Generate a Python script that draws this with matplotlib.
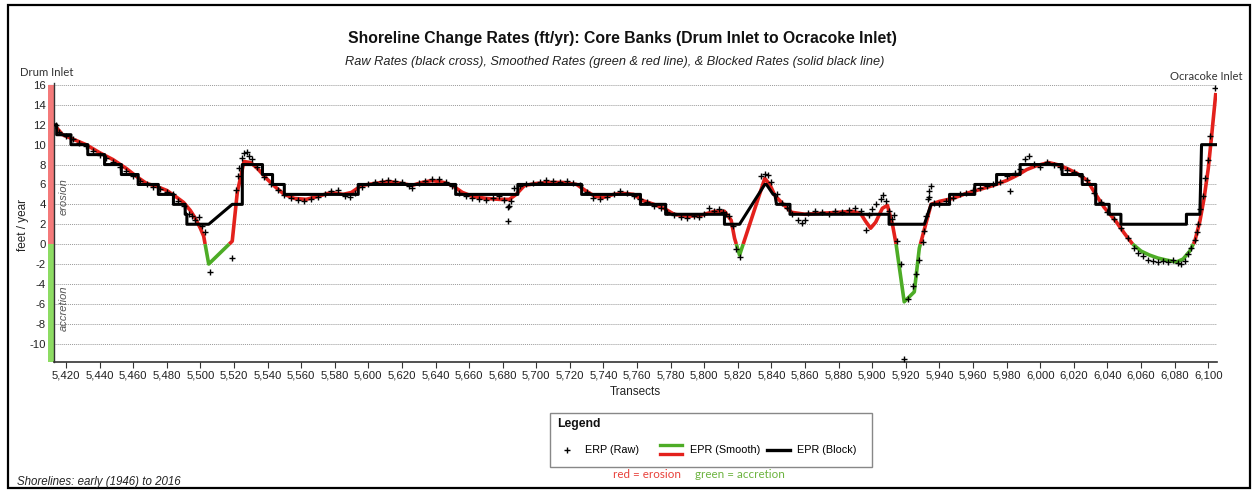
import numpy as np
import matplotlib
matplotlib.use("Agg")
import matplotlib.pyplot as plt
from matplotlib.lines import Line2D
from matplotlib.patches import Rectangle
import matplotlib.transforms as mtransforms

W, H = 1257, 490

TITLE = "Shoreline Change Rates (ft/yr): Core Banks (Drum Inlet to Ocracoke Inlet)"
SUBTITLE = ("Raw Rates (black cross), Smoothed Rates (green & red line), "
            "& Blocked Rates (solid black line)")

x_ticks = list(range(5420, 6101, 20))
y_ticks = list(range(-10, 17, 2))

# smoothed rates (transect, ft/yr)
smooth_x = [5414, 5418, 5425, 5432, 5440, 5448, 5456, 5462, 5468, 5474, 5480,
            5486, 5490, 5494, 5497, 5500, 5502, 5505, 5519, 5522, 5526, 5530,
            5534, 5540, 5545, 5550, 5556, 5563, 5570, 5578, 5585, 5590, 5596,
            5604, 5612, 5620, 5626, 5632, 5638, 5645, 5650, 5656, 5662, 5670,
            5678, 5684, 5688, 5693, 5700, 5708, 5716, 5724, 5730, 5735, 5740,
            5746, 5752, 5758, 5763, 5770, 5776, 5782, 5790, 5798, 5806, 5812,
            5816, 5818, 5821, 5836, 5839, 5842, 5847, 5852, 5860, 5870, 5880,
            5888, 5893, 5896, 5899, 5902, 5906, 5909, 5912, 5914, 5919, 5925,
            5928, 5932, 5935, 5940, 5948, 5956, 5964, 5972, 5980, 5986, 5992,
            5998, 6005, 6010, 6016, 6022, 6028, 6033, 6038, 6045, 6050, 6055,
            6060, 6065, 6070, 6075, 6081, 6085, 6089, 6092, 6095, 6097.5, 6100,
            6102, 6104.5]
smooth_y = [11.8, 11.0, 10.5, 10.0, 9.2, 8.5, 7.6, 6.8, 6.1, 5.8, 5.4,
            4.7, 4.2, 3.4, 2.6, 1.6, 0.8, -2.0, 0.3, 5.2, 8.3, 8.2,
            7.6, 6.5, 5.7, 5.0, 4.6, 4.5, 4.8, 5.2, 5.0, 5.2, 5.9,
            6.1, 6.3, 6.1, 5.9, 6.2, 6.4, 6.2, 5.9, 5.2, 4.8, 4.6,
            4.5, 4.5, 5.0, 5.9, 6.1, 6.2, 6.2, 6.0, 5.3, 4.8, 4.7,
            5.0, 5.1, 5.0, 4.4, 4.0, 3.6, 3.0, 2.8, 2.9, 3.3, 3.3,
            2.4, 0.6, -1.1, 6.6, 6.0, 4.9, 4.0, 3.2, 3.0, 3.1, 3.2,
            3.3, 3.1, 2.3, 1.6, 2.2, 3.6, 3.9, 2.0, 0.2, -5.8, -4.8,
            -0.4, 2.1, 4.0, 4.3, 4.6, 5.1, 5.5, 5.9, 6.4, 6.9, 7.5,
            7.9, 8.2, 8.0, 7.6, 7.1, 6.4, 5.0, 3.7, 2.3, 1.1, 0.0,
            -0.7, -1.1, -1.4, -1.6, -1.8, -1.5, -0.7, 0.3, 2.3, 4.6, 7.6,
            10.9, 15.2]

# blocked rates: start transect, end transect, value
block_start = [5414, 5414.5, 5423, 5433, 5443, 5453, 5463, 5475, 5484, 5491,
               5492, 5519, 5525, 5537, 5543, 5550, 5594, 5652, 5689, 5727,
               5762, 5777, 5812, 5836, 5841, 5843, 5851, 5910, 5935, 5946,
               5961, 5974, 5988, 6013, 6025, 6033, 6041, 6048, 6087, 6096]
block_end = [5414.5, 5423, 5433, 5443, 5453, 5463, 5475, 5484, 5491, 5492,
             5505, 5525, 5537, 5543, 5550, 5594, 5652, 5689, 5727, 5762,
             5777, 5812, 5821, 5837, 5842, 5851, 5910, 5931, 5946, 5961,
             5974, 5988, 6013, 6025, 6033, 6041, 6048, 6087, 6095, 6104.5]
block_val = [12, 11, 10, 9, 8, 7, 6, 5, 4, 3,
             2, 4, 8, 7, 6, 5, 6, 5, 6, 5,
             4, 3, 2, 6, 5, 4, 3, 2, 4, 5,
             6, 7, 8, 7, 6, 4, 3, 2, 3, 10]

# raw rates (transect, ft/yr)
raw_x = [5414, 5416, 5420, 5424, 5428, 5432, 5436, 5440, 5444, 5448, 5452,
         5456, 5460, 5464, 5468, 5472, 5476, 5480, 5484, 5487, 5490, 5493,
         5495, 5497, 5499, 5501, 5503, 5505.5, 5519, 5521, 5522.5, 5523, 5525,
         5526, 5528, 5529, 5531, 5534, 5538, 5542, 5546, 5550, 5554, 5558,
         5562, 5566, 5570, 5574, 5578, 5582, 5586, 5589, 5592, 5596, 5600,
         5604, 5608, 5612, 5616, 5620, 5624, 5626, 5630, 5634, 5638, 5642,
         5646, 5650, 5654, 5658, 5662, 5666, 5670, 5674, 5678, 5681, 5683,
         5684, 5683, 5685, 5687, 5690, 5694, 5698, 5702, 5706, 5710, 5714,
         5718, 5722, 5726, 5730, 5734, 5738, 5742, 5746, 5750, 5754, 5758,
         5762, 5766, 5770, 5774, 5778, 5782, 5786, 5790, 5794, 5797, 5800,
         5803, 5806, 5809, 5811, 5813, 5815, 5817, 5819, 5821, 5834, 5836,
         5838, 5840, 5843, 5846, 5849, 5852, 5856, 5858, 5860, 5862, 5866,
         5870, 5874, 5878, 5882, 5886, 5890, 5893, 5896, 5898, 5900, 5902,
         5905, 5906.5, 5908, 5910, 5912, 5913, 5915, 5917, 5919, 5921, 5924,
         5926, 5928, 5930, 5931, 5932, 5933, 5934, 5935, 5934, 5937, 5940,
         5944, 5948, 5952, 5956, 5960, 5964, 5968, 5972, 5976, 5980, 5982,
         5985, 5988, 5991, 5993, 5996, 6000, 6004, 6008, 6012, 6016, 6020,
         6024, 6028, 6032, 6036, 6040, 6044, 6048, 6052, 6056, 6058, 6061,
         6064, 6067, 6070, 6073, 6076, 6079, 6082, 6084, 6086, 6088, 6090,
         6092, 6093, 6094, 6095, 6097, 6098, 6100, 6101, 6104]
raw_y = [12.0, 11.3, 10.9, 10.6, 10.2, 9.9, 9.4, 9.0, 8.7, 8.3, 7.8,
         7.4, 6.8, 6.3, 6.0, 5.7, 5.5, 5.2, 5.0, 4.3, 3.8, 3.0,
         2.8, 2.4, 2.7, 1.8, 1.2, -2.8, -1.4, 5.4, 6.8, 7.7, 8.7,
         9.2, 9.3, 8.9, 8.6, 7.8, 6.7, 6.0, 5.4, 4.9, 4.6, 4.4,
         4.3, 4.5, 4.7, 5.0, 5.3, 5.4, 4.8, 4.7, 5.1, 5.7, 6.0,
         6.2, 6.3, 6.4, 6.3, 6.2, 5.8, 5.6, 6.1, 6.3, 6.5, 6.5,
         6.2, 5.8, 5.1, 4.8, 4.6, 4.5, 4.4, 4.6, 4.8, 4.4, 3.7,
         3.8, 2.3, 4.3, 5.6, 5.8, 6.0, 6.1, 6.2, 6.4, 6.3, 6.2,
         6.3, 6.1, 5.9, 5.2, 4.6, 4.5, 4.7, 5.0, 5.3, 5.1, 4.8,
         4.5, 4.2, 3.8, 3.6, 3.2, 2.9, 2.7, 2.6, 2.8, 2.7, 3.0,
         3.6, 3.3, 3.5, 3.2, 3.0, 2.8, 1.8, -0.5, -1.3, 6.8, 7.1,
         7.0, 6.2, 5.0, 4.1, 3.6, 3.0, 2.4, 2.1, 2.4, 3.1, 3.3,
         3.2, 3.0, 3.3, 3.2, 3.4, 3.6, 3.3, 1.4, 2.9, 3.5, 4.0,
         4.5, 4.9, 4.3, 3.3, 2.5, 2.9, 0.3, -2.0, -11.5, -5.5, -4.2,
         -3.0, -1.6, 0.2, 1.3, 2.8, 4.5, 5.3, 5.8, 4.7, 4.1, 4.0,
         4.3, 4.6, 5.0, 5.1, 5.4, 5.6, 5.8, 6.0, 6.2, 6.8, 5.3,
         7.2, 7.6, 8.6, 8.9, 8.1, 7.8, 8.3, 8.0, 7.8, 7.5, 7.3,
         6.9, 6.4, 5.1, 4.2, 3.2, 2.5, 1.6, 0.6, -0.4, -0.9, -1.2,
         -1.6, -1.7, -1.8, -1.7, -1.8, -1.6, -1.9, -2.0, -1.7, -1.0, -0.4,
         0.4, 1.2, 2.0, 3.5, 4.8, 6.6, 8.5, 10.9, 15.7]

RED = "#e3211c"
GREEN = "#4dac26"
BAR_RED = "#f47a7a"
BAR_GREEN = "#8ddc63"
FONT = "Liberation Sans"
FONT2 = "Lato"

plt.rcParams["font.family"] = FONT
plt.rcParams["axes.unicode_minus"] = False


def fx(px):
    return px / W


def fy(py):
    return 1 - py / H


fig = plt.figure(figsize=(W / 100, H / 100), dpi=100)
ax = fig.add_axes([fx(54), fy(362), fx(1217) - fx(54), fy(83) - fy(362)])

ax.set_xlim(5412.9, 6105.2)
ax.set_ylim(-11.85, 16.2)

# smoothed line, red above zero and green below
xs, ys = [smooth_x[0]], [smooth_y[0]]
for i in range(1, len(smooth_x)):
    y0, y1 = smooth_y[i - 1], smooth_y[i]
    if y0 * y1 < 0:
        t = y0 / (y0 - y1)
        xs.append(smooth_x[i - 1] + t * (smooth_x[i] - smooth_x[i - 1]))
        ys.append(0.0)
    xs.append(smooth_x[i])
    ys.append(y1)
xs, ys = np.array(xs), np.array(ys)
ax.plot(xs, np.where(ys >= 0, ys, np.nan), color=RED, lw=2.6, zorder=2,
        solid_capstyle="butt")
ax.plot(xs, np.where(ys <= 0, ys, np.nan), color=GREEN, lw=2.6, zorder=2,
        solid_capstyle="butt")

# blocked line
bx, by = [], []
for s, e, v in zip(block_start, block_end, block_val):
    bx += [s, e]
    by += [v, v]
ax.plot(bx, by, color="black", lw=2.2, zorder=3)

# raw crosses
ax.plot(raw_x, raw_y, "+", color="black", ms=5, mew=1.0, zorder=4)

# axes styling
ax.set_xticks(x_ticks)
ax.set_xticklabels([f"{t:,}" for t in x_ticks])
ax.set_yticks(y_ticks)
ax.tick_params(axis="both", labelsize=8.2, length=4, width=0.8,
               color="#333333", labelcolor="#222222", pad=2)
ax.tick_params(axis="x", pad=2)
for side in ("top", "right"):
    ax.spines[side].set_visible(False)
ax.spines["left"].set_color("#333333")
ax.spines["bottom"].set_color("#333333")
ax.spines["left"].set_linewidth(1.0)
ax.spines["bottom"].set_linewidth(1.2)
ax.yaxis.grid(True, color="#9a9a9a", linestyle=(0, (1, 1)), linewidth=0.7)
ax.set_axisbelow(True)
ax.set_xlabel("Transects", fontsize=8.5, labelpad=4, color="#222222")
ax.set_ylabel("feet / year", fontsize=8.5, color="#222222")
ax.yaxis.set_label_coords(-(54 - 29) / (1217 - 54), 0.49)

# erosion / accretion side bar
trans = mtransforms.blended_transform_factory(ax.transAxes, ax.transData)
bw = 6 / (1217 - 54)
ax.add_patch(Rectangle((-bw, 0), bw, 16, transform=trans, color=BAR_RED,
                       clip_on=False, zorder=1, lw=0))
ax.add_patch(Rectangle((-bw, -11.85), bw, 11.85, transform=trans,
                       color=BAR_GREEN, clip_on=False, zorder=1, lw=0))
ax.text(0.008, 4.8, "erosion", transform=trans, rotation=90, ha="center",
        va="center", fontsize=8, style="italic", color="#555555")
ax.text(0.008, -6.4, "accretion", transform=trans, rotation=90, ha="center",
        va="center", fontsize=8, style="italic", color="#555555")

# titles and notes
fig.text(fx(622), fy(39), TITLE, ha="center", va="center", fontsize=11.3,
         fontweight="bold", color="#111111")
fig.text(fx(615), fy(62), SUBTITLE, ha="center", va="center", fontsize=9.2,
         style="italic", color="#222222")
fig.text(fx(20), fy(72), "Drum Inlet", ha="left", va="center", fontsize=8.2,
         family=FONT2, color="#333333")
fig.text(fx(1243), fy(77), "Ocracoke Inlet", ha="right", va="center",
         fontsize=8.1, family=FONT2, color="#333333")
fig.text(fx(17), fy(482), "Shorelines: early (1946) to 2016", ha="left",
         va="center", fontsize=8.3, style="italic", color="#222222")

# legend box
fig.add_artist(Rectangle((fx(550), fy(467)), fx(872) - fx(550),
                         fy(413) - fy(467), transform=fig.transFigure,
                         fill=False, edgecolor="#888888", lw=1.0))
fig.text(fx(557), fy(424), "Legend", ha="left", va="center", fontsize=8.8,
         fontweight="bold", color="#111111")
fig.add_artist(Line2D([fx(567)], [fy(450)], marker="+", color="black",
                      ms=5, mew=1.0, transform=fig.transFigure))
fig.text(fx(585), fy(450), "ERP (Raw)", ha="left", va="center", fontsize=7.8)
fig.add_artist(Line2D([fx(660), fx(682)], [fy(444.5), fy(444.5)],
                      color=GREEN, lw=2.4, transform=fig.transFigure))
fig.add_artist(Line2D([fx(660), fx(682)], [fy(453.5), fy(453.5)],
                      color=RED, lw=2.4, transform=fig.transFigure))
fig.text(fx(690), fy(450), "EPR (Smooth)", ha="left", va="center",
         fontsize=7.8)
fig.add_artist(Line2D([fx(767), fx(790)], [fy(450), fy(450)],
                      color="black", lw=2.4, transform=fig.transFigure))
fig.text(fx(797), fy(450), "EPR (Block)", ha="left", va="center",
         fontsize=7.8)
fig.text(fx(613), fy(474), "red = erosion", ha="left", va="center",
         fontsize=8.4, family=FONT2, color="#e8403a")
fig.text(fx(695), fy(474), "green = accretion", ha="left", va="center",
         fontsize=8.4, family=FONT2, color="#6cb33f")

# outer frame
fig.add_artist(Rectangle((fx(8), fy(488)), fx(1250) - fx(8), fy(5) - fy(488),
                         transform=fig.transFigure, fill=False,
                         edgecolor="black", lw=1.6))

fig.savefig("out.png", dpi=100)
